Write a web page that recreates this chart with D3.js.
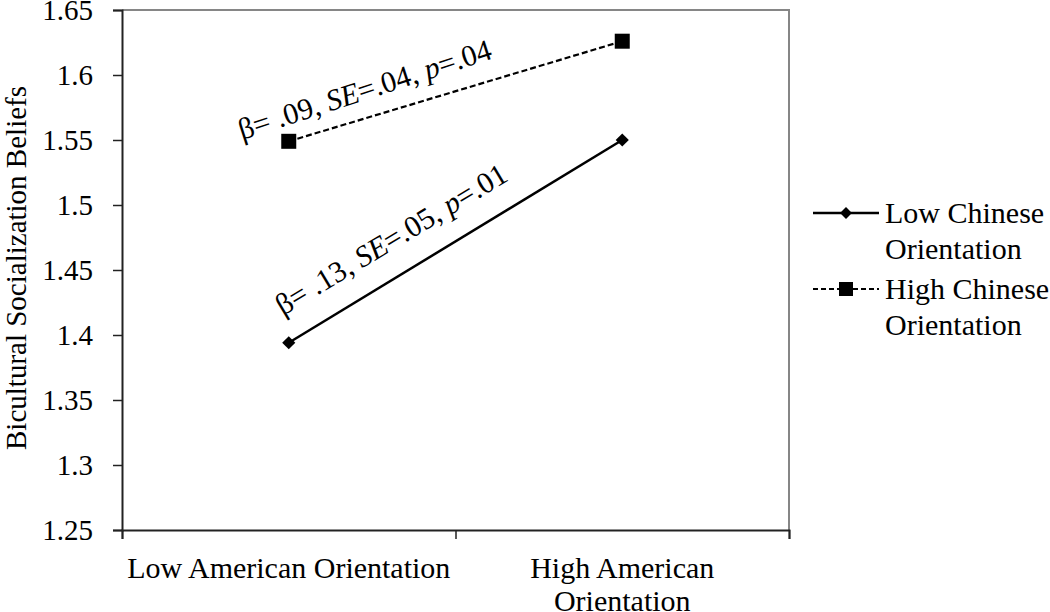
<!DOCTYPE html>
<html>
<head>
<meta charset="utf-8">
<script src="https://cdn.jsdelivr.net/npm/d3@7"></script>
<style>
  body { margin: 0; background: #fff; }
</style>
</head>
<body>
<div id="chart"></div>
<script>
// data
var categories = ["Low American Orientation", "High American Orientation"];
var seriesNames = ["Low Chinese Orientation", "High Chinese Orientation"];
var lowChinese = [1.394, 1.550];
var highChinese = [1.549, 1.626];
var yTicks = [1.25, 1.3, 1.35, 1.4, 1.45, 1.5, 1.55, 1.6, 1.65];
var notes = ["β= .13, SE=.05, p=.01", "β= .09, SE=.04, p=.04"];

var serif = '"Liberation Serif", "Times New Roman", serif';

var svgWidth = 1050;
var svgHeight = 612;

var margin = { top: 10, left: 122, right: 261, bottom: 82 };
var chartWidth = svgWidth - margin.left - margin.right;
var chartHeight = svgHeight - margin.top - margin.bottom;

var svg = d3.select("#chart")
    .append("svg")
        .attr("width", svgWidth)
        .attr("height", svgHeight)
        .style("font-family", serif);

var chart = svg.append("g")
    .attr("transform", `translate(${margin.left}, ${margin.top})`);

var xScale = d3.scaleLinear()
    .domain([0, categories.length])
    .range([0, chartWidth]);

var yScale = d3.scaleLinear()
    .domain([1.25, 1.65])
    .range([chartHeight, 0]);

// frame on top and right
chart.append("path")
    .attr("d", `M0,0H${chartWidth}V${chartHeight}`)
    .attr("fill", "none")
    .attr("stroke", "#868686")
    .attr("stroke-width", 2);

// y axis
var yAxis = d3.axisLeft(yScale)
    .tickValues(yTicks)
    .tickSize(9)
    .tickPadding(20)
    .tickFormat(d => d3.format("")(+d.toFixed(2)));

var yG = chart.append("g").call(yAxis);
yG.attr("font-family", null).attr("font-size", null);
yG.selectAll("text")
    .style("font-family", serif)
    .style("font-size", "29px")
    .attr("fill", "#000")
    .attr("dy", "0.34em");

// x axis, ticks at category boundaries
var xAxis = d3.axisBottom(xScale)
    .tickValues(d3.range(categories.length + 1))
    .tickSize(9)
    .tickFormat("");

var xG = chart.append("g")
    .attr("transform", `translate(0, ${chartHeight})`)
    .call(xAxis);

[yG, xG].forEach(function (g) {
    g.select(".domain").attr("stroke", "#222").attr("stroke-width", 2);
    g.selectAll(".tick line").attr("stroke", "#222").attr("stroke-width", 1.5);
});

// category labels
var xLabelLines = [["Low American Orientation"], ["High American", "Orientation"]];
categories.forEach(function (c, i) {
    var t = chart.append("text")
        .attr("x", xScale(i + 0.5))
        .attr("y", chartHeight + 48)
        .attr("text-anchor", "middle")
        .style("font-family", serif)
        .style("font-size", "30px");
    xLabelLines[i].forEach(function (l, j) {
        t.append("tspan")
            .attr("x", xScale(i + 0.5))
            .attr("dy", j === 0 ? 0 : 33)
            .text(l);
    });
});

// y title
svg.append("text")
    .attr("transform", `translate(26, ${margin.top + chartHeight / 2 - 2}) rotate(-90)`)
    .attr("text-anchor", "middle")
    .style("font-family", serif)
    .style("font-size", "29px")
    .text("Bicultural Socialization Beliefs");

var line = d3.line()
    .x((d, i) => xScale(i + 0.5))
    .y(d => yScale(d));

// low chinese: solid with diamonds
chart.append("path")
    .datum(lowChinese)
    .attr("d", line)
    .attr("fill", "none")
    .attr("stroke", "#000")
    .attr("stroke-width", 2.5);

chart.selectAll(".diamond")
    .data(lowChinese)
    .enter().append("path")
        .attr("class", "diamond")
        .attr("d", d3.symbol().type(d3.symbolDiamond2).size(110))
        .attr("transform", (d, i) => `translate(${xScale(i + 0.5)}, ${yScale(d)})`)
        .attr("fill", "#000");

// high chinese: dashed with squares
chart.append("path")
    .datum(highChinese)
    .attr("d", line)
    .attr("fill", "none")
    .attr("stroke", "#000")
    .attr("stroke-width", 2.2)
    .attr("stroke-dasharray", "6,3");

chart.selectAll(".square")
    .data(highChinese)
    .enter().append("rect")
        .attr("class", "square")
        .attr("x", (d, i) => xScale(i + 0.5) - 7.5)
        .attr("y", d => yScale(d) - 7.5)
        .attr("width", 15)
        .attr("height", 15)
        .attr("fill", "#000");

// slope annotations
function note(str, x, y, angle) {
    var parts = str.split(/(SE|p)(?==)/);
    var t = svg.append("text")
        .attr("transform", `translate(${x}, ${y}) rotate(${angle})`)
        .style("font-family", serif)
        .style("font-size", "30px");
    parts.forEach(function (p) {
        t.append("tspan")
            .style("font-style", (p === "SE" || p === "p") ? "italic" : "normal")
            .text(p);
    });
}
note(notes[0], 283, 316, -31);
note(notes[1], 242, 140, -18);

// legend
var legend = svg.append("g").attr("transform", "translate(813, 213)");
var legendRows = [["Low Chinese", "Orientation"], ["High Chinese", "Orientation"]];
legendRows.forEach(function (rows, i) {
    var g = legend.append("g").attr("transform", `translate(0, ${i * 76})`);
    g.append("line")
        .attr("x1", 0).attr("x2", 66)
        .attr("stroke", "#000")
        .attr("stroke-width", i === 0 ? 2.5 : 2)
        .attr("stroke-dasharray", i === 0 ? null : "5,3");
    if (i === 0) {
        g.append("path")
            .attr("d", d3.symbol().type(d3.symbolDiamond2).size(90))
            .attr("transform", "translate(33,0)");
    } else {
        g.append("rect").attr("x", 26).attr("y", -7).attr("width", 14).attr("height", 14);
    }
    var t = g.append("text")
        .attr("x", 72)
        .attr("y", 10)
        .style("font-family", serif)
        .style("font-size", "30px");
    rows.forEach(function (r, j) {
        t.append("tspan").attr("x", 72).attr("dy", j === 0 ? 0 : 36).text(r);
    });
});
</script>
</body>
</html>
